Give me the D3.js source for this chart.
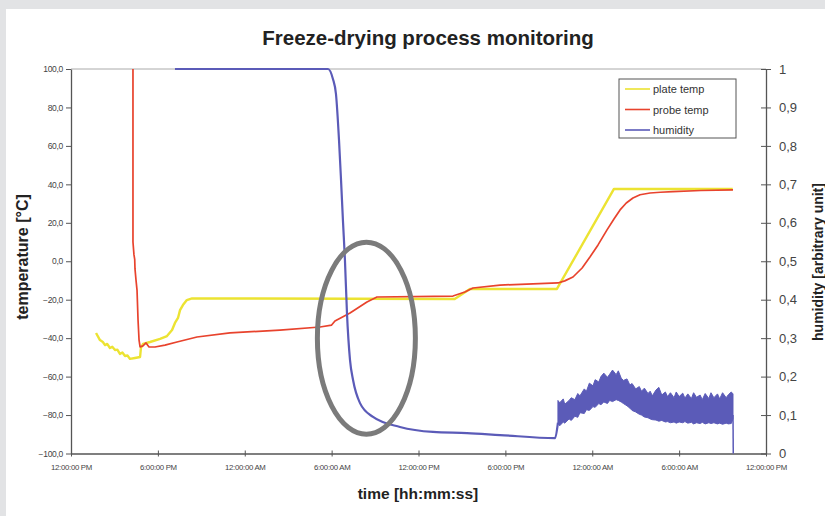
<!DOCTYPE html>
<html>
<head>
<meta charset="utf-8">
<script src="https://cdn.jsdelivr.net/npm/d3@7/dist/d3.min.js"></script>
<style>
    body { margin: 0; background: #e2e3e5; }
    text { font-family: Arial, "Liberation Sans", sans-serif; }
</style>
</head>
<body>
<div class="canvas"></div>
<script>
// time is in hours after the first 12:00:00 PM
const timeTicks = [0, 6, 12, 18, 24, 30, 36, 42, 48];
const timeLabels = ['12:00:00 PM', '6:00:00 PM', '12:00:00 AM', '6:00:00 AM', '12:00:00 PM',
    '6:00:00 PM', '12:00:00 AM', '6:00:00 AM', '12:00:00 PM'];
const tempTicks = [100, 80, 60, 40, 20, 0, -20, -40, -60, -80, -100];
const humTicks = [0, 0.1, 0.2, 0.3, 0.4, 0.5, 0.6, 0.7, 0.8, 0.9, 1];

// [time, temperature]
const plateTemp = [
    [1.73, -37.3], [2.0, -41], [2.2, -42], [2.35, -43.6], [2.5, -43], [2.69, -45.1], [2.85, -44.5],
    [3.04, -46.2], [3.2, -46], [3.38, -48.2], [3.55, -47.5], [3.73, -49.3], [3.9, -49],
    [4.07, -50.8], [4.42, -50.3], [4.77, -49.8], [4.83, -45.1], [4.97, -43], [5.46, -42],
    [6.15, -40.4], [6.63, -38.9], [6.98, -35.8], [7.18, -32.1], [7.39, -29.5], [7.53, -25.4],
    [7.73, -22.8], [8.0, -20.2], [8.36, -19.3], [26.5, -19.6], [27.55, -14.4], [33.56, -14.4],
    [37.5, 37.6], [45.7, 37.6]
];

const probeTemp = [
    [4.28, 100], [4.28, 10], [4.35, 3.3], [4.4, 1], [4.42, -4], [4.49, -9.8], [4.56, -15],
    [4.63, -30.6], [4.70, -41], [4.77, -44.6], [4.97, -44], [5.18, -42.5], [5.39, -44.6],
    [5.8, -44.6], [6.49, -43.6], [7.32, -42], [8.7, -39.4], [10.98, -37.3], [14.43, -35.8],
    [17.2, -34.2], [18.0, -33.2], [18.23, -31.1], [19.27, -26.9], [20.44, -21.2], [21.13, -18.6],
    [26.38, -18.1], [27.2, -16], [27.76, -13.9], [29.63, -12.4], [33.63, -11.3], [34.1, -10.2],
    [34.67, -8.2], [35.3, -3.5], [35.84, 2.2], [36.4, 8.5], [37.02, 16.3], [37.5, 22],
    [37.92, 26.7], [38.35, 30.3], [38.81, 32.9], [39.3, 34.6], [39.99, 35.5], [40.7, 35.9],
    [41.57, 36.2], [43.5, 36.8], [45.72, 37.1]
];

// [time, humidity]
const humidity = [
    [7.18, 1], [17.75, 1], [18.09, 0.974], [18.3, 0.935], [18.51, 0.815], [18.65, 0.711],
    [18.78, 0.607], [18.92, 0.503], [19.06, 0.365], [19.27, 0.243], [19.48, 0.191],
    [19.96, 0.131], [20.86, 0.095], [22.72, 0.069], [25.0, 0.056], [27.35, 0.053],
    [29.63, 0.048], [33.43, 0.04], [33.63, 0.08]
];

// noisy part after the jump: [time, low, high]
const humidityBand = [
    [33.63, 0.078, 0.138], [33.75, 0.072, 0.132], [34.0, 0.082, 0.142], [34.1, 0.079, 0.128],
    [34.4, 0.09, 0.138], [34.55, 0.086, 0.145], [34.8, 0.097, 0.14], [35.0, 0.094, 0.156],
    [35.15, 0.106, 0.15], [35.45, 0.104, 0.168], [35.6, 0.114, 0.162], [35.8, 0.112, 0.183],
    [36.05, 0.122, 0.176], [36.2, 0.12, 0.192], [36.45, 0.13, 0.186], [36.6, 0.127, 0.2],
    [36.8, 0.134, 0.209], [37.05, 0.13, 0.198], [37.2, 0.138, 0.206], [37.4, 0.135, 0.217],
    [37.65, 0.14, 0.205], [37.8, 0.138, 0.215], [38.0, 0.134, 0.196], [38.15, 0.13, 0.19],
    [38.4, 0.124, 0.194], [38.6, 0.118, 0.178], [38.75, 0.112, 0.182], [39.0, 0.108, 0.168],
    [39.25, 0.102, 0.174], [39.4, 0.1, 0.162], [39.6, 0.095, 0.17], [39.85, 0.093, 0.156],
    [40.0, 0.09, 0.162], [40.15, 0.088, 0.15], [40.4, 0.087, 0.165], [40.6, 0.084, 0.172],
    [40.8, 0.086, 0.152], [41.05, 0.082, 0.16], [41.2, 0.083, 0.148], [41.4, 0.08, 0.158],
    [41.65, 0.082, 0.145], [41.8, 0.079, 0.16], [42.0, 0.082, 0.148], [42.25, 0.08, 0.157],
    [42.4, 0.083, 0.144], [42.6, 0.079, 0.155], [42.85, 0.081, 0.143], [43.0, 0.077, 0.158],
    [43.2, 0.08, 0.146], [43.45, 0.078, 0.152], [43.6, 0.081, 0.14], [43.8, 0.077, 0.156],
    [44.05, 0.08, 0.143], [44.2, 0.078, 0.158], [44.4, 0.08, 0.145], [44.65, 0.077, 0.155],
    [44.8, 0.079, 0.142], [45.0, 0.076, 0.158], [45.25, 0.079, 0.145], [45.4, 0.077, 0.153],
    [45.6, 0.078, 0.16], [45.72, 0.09, 0.155]
];
const humidityEnd = [[45.72, 0.1], [45.74, 0]];

const legendNames = ['plate temp', 'probe temp', 'humidity'];
const colours = ['#ece332', '#e8432d', '#5b5bb8'];

const dimensions = { width: 825, height: 516 };
const plot = { left: 71, right: 766, top: 69, bottom: 453.5 };

const svg = d3.select('.canvas')
    .append('svg')
    .attr('width', dimensions.width)
    .attr('height', dimensions.height)
    .style('display', 'block');

svg.append('rect')
    .attr('x', 6).attr('y', 9)
    .attr('width', dimensions.width - 6)
    .attr('height', dimensions.height - 9)
    .attr('fill', '#fff');

const x = d3.scaleLinear().domain([0, 48]).range([plot.left, plot.right]);
const yT = d3.scaleLinear().domain([-100, 100]).range([plot.bottom, plot.top]);
const yH = d3.scaleLinear().domain([0, 1]).range([plot.bottom, plot.top]);

// top border of the plot
svg.append('line')
    .attr('x1', plot.left).attr('x2', plot.right)
    .attr('y1', plot.top).attr('y2', plot.top)
    .attr('stroke', '#aaa');

// axes
const leftAxis = svg.append('g')
    .attr('transform', `translate(${plot.left}, 0)`)
    .call(d3.axisLeft(yT).tickValues(tempTicks).tickSize(5).tickSizeOuter(0)
        .tickFormat(d => d3.format('.1f')(d).replace('.', ',')));

const rightAxis = svg.append('g')
    .attr('transform', `translate(${plot.right}, 0)`)
    .call(d3.axisRight(yH).tickValues(humTicks).tickSize(5).tickSizeOuter(0).tickPadding(8)
        .tickFormat(d => d3.format('~g')(d).replace('.', ',')));

const bottomAxis = svg.append('g')
    .attr('transform', `translate(0, ${plot.bottom})`)
    .call(d3.axisBottom(x).tickValues(timeTicks).tickSize(3).tickSizeOuter(0).tickPadding(8)
        .tickFormat((d, i) => timeLabels[i]));

[leftAxis, rightAxis, bottomAxis].forEach(a => {
    a.select('.domain').attr('stroke', '#555').attr('stroke-width', 1.3);
    a.selectAll('.tick line').attr('stroke', '#555');
});
rightAxis.selectAll('.tick line').attr('x1', -5);
bottomAxis.selectAll('.tick line').attr('y1', -3);

leftAxis.selectAll('text').attr('font-size', 8.5).attr('fill', '#444').attr('letter-spacing', -0.3);
rightAxis.selectAll('text').attr('font-size', 13).attr('fill', '#444');
bottomAxis.selectAll('text').attr('font-size', 7.8).attr('fill', '#444').attr('letter-spacing', -0.3);

// lines
const line = d3.line().x(d => x(d[0]));

svg.append('path')
    .attr('fill', 'none')
    .attr('stroke', colours[0])
    .attr('stroke-width', 2.4)
    .attr('stroke-linejoin', 'round')
    .attr('d', line.y(d => yT(d[1]))(plateTemp));

svg.append('path')
    .attr('fill', 'none')
    .attr('stroke', colours[1])
    .attr('stroke-width', 1.7)
    .attr('stroke-linejoin', 'round')
    .attr('d', line.y(d => yT(d[1]))(probeTemp));

svg.append('path')
    .attr('fill', 'none')
    .attr('stroke', colours[2])
    .attr('stroke-width', 2.2)
    .attr('d', d3.line().curve(d3.curveMonotoneX)
        .x(d => x(d[0])).y(d => yH(d[1]))(humidity));

svg.append('path')
    .attr('fill', colours[2])
    .attr('stroke', colours[2])
    .attr('stroke-width', 1)
    .attr('stroke-linejoin', 'miter')
    .attr('d', d3.area()
        .x(d => x(d[0]))
        .y0(d => yH(d[1]))
        .y1(d => yH(d[2]))(humidityBand));

svg.append('path')
    .attr('fill', 'none')
    .attr('stroke', colours[2])
    .attr('stroke-width', 1.5)
    .attr('d', line.y(d => yH(d[1]))(humidityEnd));

// annotation ellipse
svg.append('ellipse')
    .attr('cx', x(20.4))
    .attr('cy', yT(-40))
    .attr('rx', 49)
    .attr('ry', 96)
    .attr('fill', 'none')
    .attr('stroke', '#7b7b7b')
    .attr('stroke-width', 5);

// legend
const legend = svg.append('g').attr('transform', 'translate(619, 79)');
legend.append('rect')
    .attr('width', 117).attr('height', 59)
    .attr('fill', '#fff')
    .attr('stroke', '#555');
legendNames.forEach((name, i) => {
    const row = legend.append('g').attr('transform', `translate(0, ${10 + i * 20.5})`);
    row.append('line')
        .attr('x1', 6).attr('x2', 31)
        .attr('stroke', colours[i]).attr('stroke-width', 1.6);
    row.append('text')
        .attr('x', 34).attr('y', 4)
        .attr('font-size', 11).attr('fill', '#333')
        .text(name);
});

// titles
svg.append('text')
    .attr('x', 428).attr('y', 45)
    .attr('text-anchor', 'middle')
    .attr('font-size', 20.5).attr('font-weight', 'bold')
    .attr('fill', '#222')
    .text('Freeze-drying process monitoring');

svg.append('text')
    .attr('x', 418).attr('y', 499)
    .attr('text-anchor', 'middle')
    .attr('font-size', 15.5).attr('font-weight', 'bold')
    .attr('fill', '#222')
    .text('time [hh:mm:ss]');

svg.append('text')
    .attr('transform', 'translate(28, 257) rotate(-90)')
    .attr('text-anchor', 'middle')
    .attr('font-size', 16).attr('font-weight', 'bold')
    .attr('fill', '#222')
    .text('temperature [°C]');

svg.append('text')
    .attr('transform', 'translate(823, 262) rotate(-90)')
    .attr('text-anchor', 'middle')
    .attr('font-size', 14).attr('font-weight', 'bold')
    .attr('fill', '#222')
    .text('humidity [arbitrary unit]');
</script>
</body>
</html>
